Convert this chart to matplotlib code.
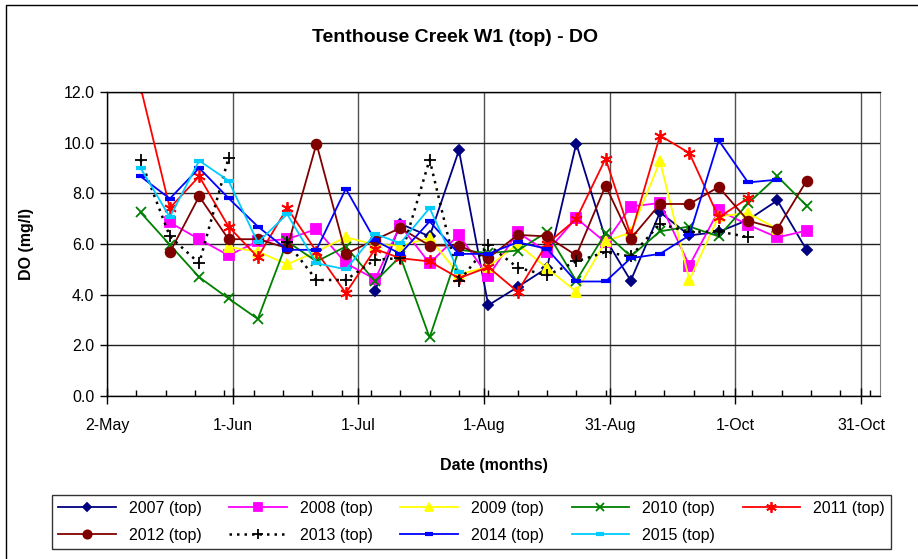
import numpy as np
import matplotlib
matplotlib.use('Agg')
import matplotlib.pyplot as plt
from matplotlib.patches import Rectangle

plt.rcParams['font.family'] = ['Liberation Sans', 'DejaVu Sans']

nan = np.nan

# sampling days, counted from 2 May (weekly samples)
sample_day = [8, 15, 22, 29, 36, 43, 50, 57, 64, 70, 77, 84,
              91, 98, 105, 112, 119, 125, 132, 139, 146, 153, 160, 167]

tick_labels = ['2-May', '1-Jun', '1-Jul', '1-Aug', '31-Aug', '1-Oct', '31-Oct']

# DO (mg/l) per year
do_2007 = [nan, nan, nan, nan, nan, nan, nan, nan, 4.16, 6.8, 6.3, 9.7,
           3.58, 4.3, 5.05, 9.96, 6.2, 4.55, 7.25, 6.34, 6.48, 6.95, 7.72, 5.76]
do_2008 = [nan, 6.85, 6.19, 5.55, 6.10, 6.19, 6.59, 5.24, 4.61, 6.73, 5.24, 6.36,
           4.72, 6.46, 5.70, 7.02, 6.06, 7.48, 7.62, 5.15, 7.33, 6.76, 6.26, 6.53]
do_2009 = [nan, nan, nan, 5.88, 5.70, 5.20, 5.70, 6.27, 5.97, 5.94, 6.23, 4.8,
           5.1, 6.0, 5.05, 4.12, 6.10, 6.46, 9.26, 4.58, 7.09, 7.22, 6.59, nan]
do_2010 = [7.25, 5.97, 4.69, 3.85, 3.04, 6.10, 5.31, 5.90, 4.52, 5.51, 2.31, 5.77,
           5.64, 5.74, 6.47, 4.55, 6.43, 5.51, 6.50, 6.69, 6.30, 7.6, 8.67, 7.51]
do_2011 = [12.2, 7.42, 8.67, 6.69, 5.48, 7.42, 5.70, 4.06, 5.80, 5.44, 5.31, 4.65,
           5.09, 4.12, 6.01, 6.98, 9.37, 6.35, 10.28, 9.59, 7.05, 7.81, nan, nan]
do_2012 = [nan, 5.67, 7.88, 6.19, 6.19, 5.84, 9.96, 5.61, 6.17, 6.63, 5.94, 5.94,
           5.44, 6.36, 6.30, 5.55, 8.30, 6.21, 7.58, 7.58, 8.25, 6.92, 6.60, 8.50]
do_2013 = [9.33, 6.30, 5.24, 9.39, nan, 6.06, 4.58, 4.58, 5.38, 5.44, 9.33, 4.52,
           5.97, 5.07, 4.76, 5.31, 5.68, 5.51, 6.80, 6.47, 6.50, 6.27, nan, nan]
do_2014 = [8.67, 7.79, 9.0, 7.81, 6.69, 5.77, 5.77, 8.18, 6.14, 5.61, 6.89, 5.61,
           5.61, 6.07, 5.81, 4.52, 4.52, 5.44, 5.61, 6.34, 10.09, 8.43, 8.54, nan]
do_2015 = [9.0, 7.06, 9.29, 8.50, 6.06, 7.18, 5.24, 5.0, 6.40, 6.03, 7.42, 4.89,
           nan, nan, nan, nan, nan, nan, nan, nan, nan, nan, nan, nan]

fig = plt.figure(figsize=(9.18, 5.59), dpi=100)
ax = fig.add_axes([107/918, 1-396/559, (880-107)/918, (396-92)/559])

# style per series: (label, data, color, marker, markersize, linestyle)
series = [
    ('2007 (top)', do_2007, '#000080', 'D', 5, '-'),
    ('2008 (top)', do_2008, '#FF00FF', 's', 6.5, '-'),
    ('2009 (top)', do_2009, '#FFFF00', '^', 7, '-'),
    ('2010 (top)', do_2010, '#008000', 'x', 7, '-'),
    ('2011 (top)', do_2011, '#FF0000', (6, 2, 0), 9, '-'),
    ('2012 (top)', do_2012, '#800000', 'o', 7, '-'),
    ('2013 (top)', do_2013, '#000000', '+', 9, (0, (1, 2))),
    ('2014 (top)', do_2014, '#0000FF', '_', 7, '-'),
    ('2015 (top)', do_2015, '#00CCFF', '_', 7, '-'),
]

handles = {}
for label, vals, col, mk, ms, ls in series:
    mew = 1.3
    if mk == '_':
        mew = 3
    lw = 1.8 if label.startswith('2013') else 1.3
    line, = ax.plot(sample_day, vals, color=col, marker=mk, markersize=ms,
                    markeredgewidth=mew, markerfacecolor=col, markeredgecolor=col,
                    linestyle=ls, linewidth=lw, label=label)
    handles[label] = line

ax.set_xlim(0, 184.5)
ax.set_ylim(0, 12)
ax.set_xticks(np.arange(7) * 30)
ax.set_xticklabels(tick_labels)
ax.set_xticks(np.arange(0, 184, 7), minor=True)
ax.set_yticks(np.arange(0, 13, 2))
ax.set_yticklabels([f'{v:.1f}' for v in np.arange(0, 13, 2)])

ax.grid(True, axis='y', color='#202020', linewidth=1)
ax.grid(True, axis='x', which='major', color='#505050', linewidth=1)
ax.set_axisbelow(True)
ax.tick_params(axis='x', which='major', direction='inout', length=12, width=1,
               pad=10, labelsize=11.5)
ax.tick_params(axis='x', which='minor', direction='in', length=4, width=1)
ax.tick_params(axis='y', direction='out', length=5, width=1, labelsize=11.5, pad=4)
for s in ['left', 'bottom', 'top']:
    ax.spines[s].set_color('black')
    ax.spines[s].set_linewidth(1)
ax.spines['right'].set_color('#808080')

ax.set_xlabel('Date (months)', fontsize=11.5, fontweight='bold', labelpad=18)
ax.set_ylabel('DO (mg/l)', fontsize=11.5, fontweight='bold', labelpad=21)
fig.text(455/918, 1-37/559, 'Tenthouse Creek W1 (top) - DO', ha='center', va='center',
         fontsize=14, fontweight='bold')

# legend in Excel row order
order = ['2007 (top)', '2012 (top)', '2008 (top)', '2013 (top)', '2009 (top)',
         '2014 (top)', '2010 (top)', '2015 (top)', '2011 (top)']
leg = fig.legend([handles[k] for k in order], order, loc='center',
                 bbox_to_anchor=(52/918, 1-554/559, (891-52)/918, (554-490)/559),
                 mode='expand', ncol=5, fontsize=11.5, frameon=True, fancybox=False,
                 edgecolor='black', handlelength=3.6, borderaxespad=0,
                 labelspacing=0.75, markerscale=0.85)
leg.get_frame().set_linewidth(1)

fig.patches.append(Rectangle((6/918, -0.1), 1.2, 1 - 5/559 + 0.1, transform=fig.transFigure,
                             fill=False, edgecolor='black', linewidth=1))

fig.savefig('out.png', dpi=100)
